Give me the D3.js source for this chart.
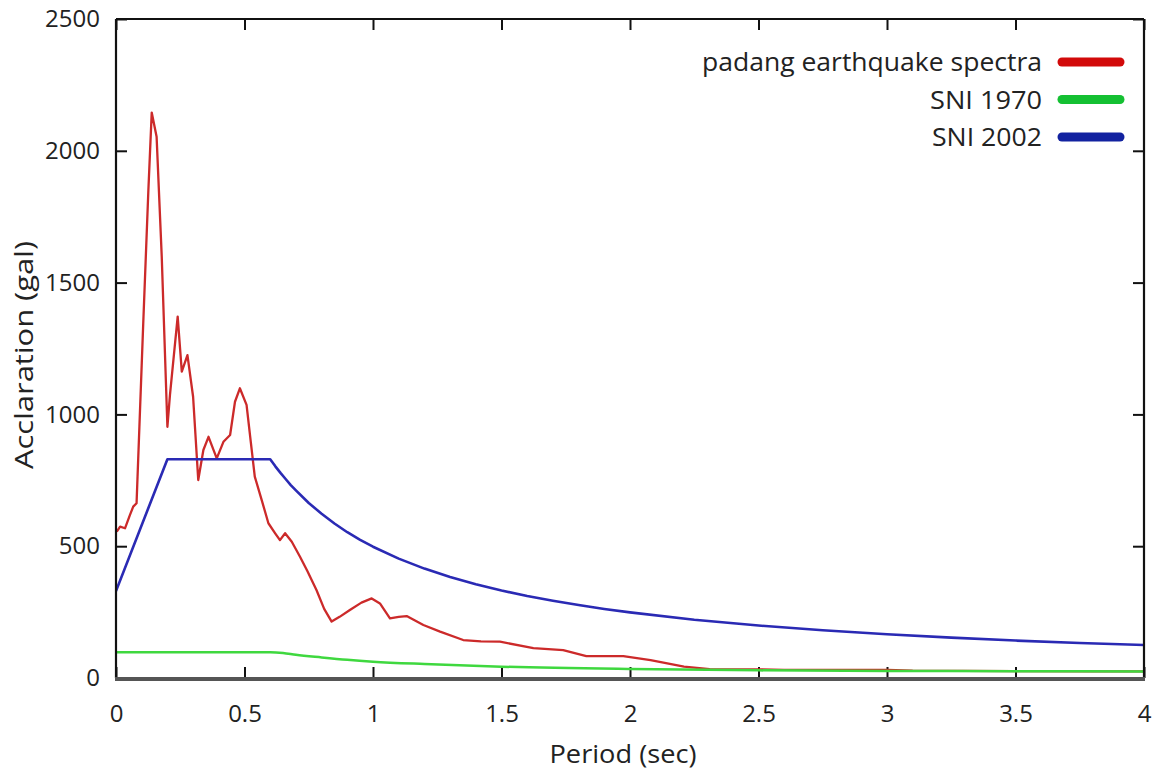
<!DOCTYPE html>
<html>
<head>
<meta charset="utf-8">
<script src="https://cdn.jsdelivr.net/npm/d3@7"></script>
<style>
  html, body { margin: 0; padding: 0; background: #fff; }
  svg text { font-family: "Open Sans", sans-serif; fill: #222; }
</style>
</head>
<body>
<svg id="chart" width="1159" height="773"></svg>
<script>
// ---- data ----
const periodTicks = [0, 0.5, 1, 1.5, 2, 2.5, 3, 3.5, 4];
const accelTicks = [0, 500, 1000, 1500, 2000, 2500];

const seriesNames = ["padang earthquake spectra", "SNI 1970", "SNI 2002"];
const seriesColors = ["#cc2a2a", "#3fd83f", "#2a2ab4"];
const legendColors = ["#d20a0a", "#14c032", "#1222a0"];

// padang earthquake spectra: [period, acceleration]
const padangSpectra = [
  [0.003, 555], [0.016, 574], [0.035, 568], [0.054, 618], [0.067, 650],
  [0.08, 663], [0.106, 1346], [0.126, 1851], [0.139, 2145], [0.158, 2053],
  [0.178, 1598], [0.2, 953], [0.21, 1074], [0.24, 1371], [0.256, 1162],
  [0.278, 1225], [0.3, 1067], [0.32, 751], [0.34, 865], [0.36, 915],
  [0.392, 833], [0.418, 896], [0.444, 922], [0.463, 1048], [0.482, 1099],
  [0.508, 1036], [0.525, 891], [0.54, 764], [0.567, 675], [0.593, 587],
  [0.62, 548], [0.638, 523], [0.658, 549], [0.684, 517], [0.716, 460],
  [0.745, 405], [0.78, 334], [0.81, 262], [0.839, 214], [0.87, 232],
  [0.91, 258], [0.955, 286], [0.995, 302], [1.027, 283], [1.066, 226],
  [1.1, 232], [1.131, 235], [1.196, 201], [1.261, 176], [1.351, 144],
  [1.42, 139], [1.494, 138], [1.624, 113], [1.74, 106], [1.83, 83],
  [1.974, 83], [2.08, 68], [2.21, 43], [2.31, 34], [2.467, 33],
  [2.6, 31], [3.0, 31], [3.1, 28], [3.5, 26], [3.8, 25], [4.0, 25]
];

// SNI 1970 design spectrum
const sni1970 = [
  [0, 98], [0.6, 98], [0.65, 95], [0.7, 88], [0.8, 78], [0.9, 69],
  [1.0, 62], [1.2, 53], [1.5, 43], [2.0, 34], [2.5, 29], [3.0, 27],
  [3.5, 26], [4.0, 25]
];

// SNI 2002 design spectrum
const sni2002 = [
  [0, 330], [0.2, 830], [0.6, 830], [0.62, 803], [0.64, 778], [0.66, 755],
  [0.68, 732], [0.7, 712], [0.75, 664], [0.8, 623], [0.85, 586], [0.9, 553],
  [0.95, 524], [1.0, 498], [1.1, 453], [1.2, 415], [1.3, 383], [1.4, 356],
  [1.5, 332], [1.6, 311], [1.7, 293], [1.8, 277], [1.9, 262], [2.0, 249],
  [2.25, 221], [2.5, 199], [2.75, 181], [3.0, 166], [3.25, 153], [3.5, 142],
  [3.75, 133], [4.0, 125]
];

// ---- layout ----
const svg = d3.select("#chart");
const margin = { left: 116, right: 15, top: 19, bottom: 95 };
const W = 1159, H = 773;
const innerW = W - margin.left - margin.right;
const innerH = H - margin.top - margin.bottom;

const x = d3.scaleLinear().domain([0, 4]).range([0, innerW]);
const y = d3.scaleLinear().domain([0, 2500]).range([innerH, 0]);

const g = svg.append("g").attr("transform", `translate(${margin.left},${margin.top})`);

g.append("clipPath").attr("id", "plotClip")
  .append("rect").attr("width", innerW).attr("height", innerH);

// ---- axes (gnuplot style: inward ticks, mirrored) ----
const tickLen = 11;
const fontPx = 24;

const axLeft = g.append("g")
  .call(d3.axisLeft(y).tickValues(accelTicks).tickSize(-tickLen).tickPadding(16).tickFormat(d3.format("d")));
const axRight = g.append("g").attr("transform", `translate(${innerW},0)`)
  .call(d3.axisRight(y).tickValues(accelTicks).tickSize(-tickLen).tickFormat(""));
const axBottom = g.append("g").attr("transform", `translate(0,${innerH})`)
  .call(d3.axisBottom(x).tickValues(periodTicks).tickSize(-tickLen).tickPadding(27).tickFormat(d3.format("")));
const axTop = g.append("g")
  .call(d3.axisTop(x).tickValues(periodTicks).tickSize(-tickLen).tickFormat(""));

[axLeft, axRight, axBottom, axTop].forEach(a => {
  a.select(".domain").remove();
  a.selectAll(".tick line").attr("stroke", "#111").attr("stroke-width", 2);
  a.selectAll(".tick text")
    .style("font-family", "'Open Sans', sans-serif")
    .style("font-size", fontPx + "px")
    .attr("fill", "#222");
});

// ---- curves ----
const line = d3.line()
  .x(d => x(d[0]))
  .y(d => y(d[1]));

const plot = g.append("g").attr("clip-path", "url(#plotClip)");

plot.append("path").datum(padangSpectra)
  .attr("d", line.curve(d3.curveLinear))
  .attr("fill", "none").attr("stroke", seriesColors[0])
  .attr("stroke-width", 2.3).attr("stroke-linejoin", "round");

plot.append("path").datum(sni1970)
  .attr("d", line.curve(d3.curveMonotoneX))
  .attr("fill", "none").attr("stroke", seriesColors[1])
  .attr("stroke-width", 2.5);

plot.append("path").datum(sni2002)
  .attr("d", line.curve(d3.curveLinear))
  .attr("fill", "none").attr("stroke", seriesColors[2])
  .attr("stroke-width", 2.6).attr("stroke-linejoin", "round");

// ---- frame ----
g.append("line").attr("x1", 0).attr("x2", innerW).attr("y1", 0).attr("y2", 0)
  .attr("stroke", "#111").attr("stroke-width", 2);
g.append("line").attr("x1", 0).attr("x2", 0).attr("y1", 0).attr("y2", innerH)
  .attr("stroke", "#111").attr("stroke-width", 2.2);
g.append("line").attr("x1", innerW).attr("x2", innerW).attr("y1", 0).attr("y2", innerH)
  .attr("stroke", "#111").attr("stroke-width", 2.2);
g.append("line").attr("x1", -1).attr("x2", innerW + 1).attr("y1", innerH + 1).attr("y2", innerH + 1)
  .attr("stroke", "#555").attr("stroke-width", 4);

// ---- axis titles ----
svg.append("text")
  .attr("x", 623).attr("y", 763)
  .attr("text-anchor", "middle")
  .attr("textLength", 147).attr("lengthAdjust", "spacingAndGlyphs")
  .style("font-size", "25px")
  .text("Period (sec)");

svg.append("text")
  .attr("transform", "translate(33,355) rotate(-90)")
  .attr("text-anchor", "middle")
  .attr("textLength", 228).attr("lengthAdjust", "spacingAndGlyphs")
  .style("font-size", "25px")
  .text("Acclaration (gal)");

// ---- legend ----
const legendWidths = [340, 112, 110];
const legend = svg.append("g").attr("transform", "translate(1042,62)");
const items = legend.selectAll("g").data(seriesNames).join("g")
  .attr("transform", (d, i) => `translate(0,${i * 37.5})`);

items.append("text")
  .attr("x", 0).attr("y", 0).attr("dy", "0.36em")
  .attr("text-anchor", "end")
  .attr("textLength", (d, i) => legendWidths[i]).attr("lengthAdjust", "spacingAndGlyphs")
  .style("font-size", "26px")
  .text(d => d);

items.append("line")
  .attr("x1", 20).attr("x2", 78).attr("y1", 0).attr("y2", 0)
  .attr("stroke", (d, i) => legendColors[i])
  .attr("stroke-width", 9).attr("stroke-linecap", "round");
</script>
</body>
</html>
